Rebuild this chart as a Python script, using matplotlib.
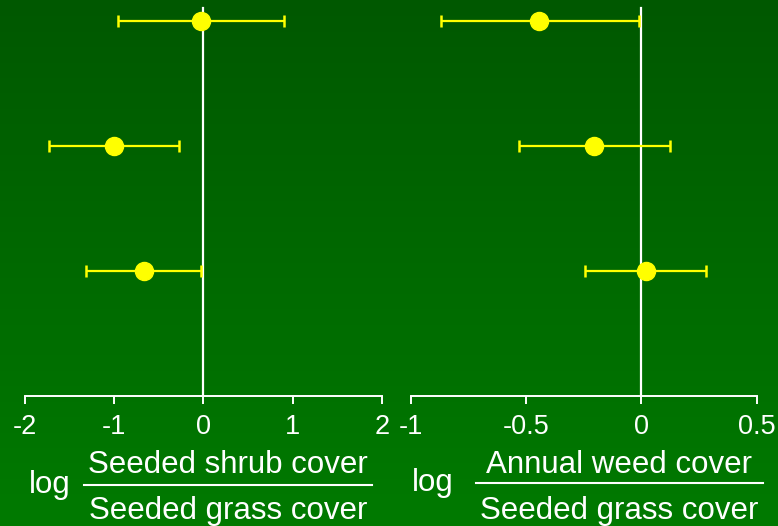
import numpy as np
import matplotlib
matplotlib.use("Agg")
import matplotlib.pyplot as plt
from matplotlib.lines import Line2D

plt.rcParams["font.family"] = ["Liberation Sans", "DejaVu Sans"]

# Row positions (top to bottom)
rows = [3, 2, 1]

# log(seeded shrub / seeded grass)
shrub_mean = [-0.03, -1.00, -0.67]
shrub_lo = [-0.96, -1.73, -1.32]
shrub_hi = [0.90, -0.27, -0.03]

# log(annual weed / seeded grass)
weed_mean = [-0.445, -0.207, 0.020]
weed_lo = [-0.868, -0.529, -0.246]
weed_hi = [-0.010, 0.126, 0.280]

shrub_ticks = [-2, -1, 0, 1, 2]
shrub_ticklabels = ["-2", "-1", "0", "1", "2"]
weed_ticks = [-1, -0.5, 0, 0.5]
weed_ticklabels = ["-1", "-0.5", "0", "0.5"]

W, H = 778, 526
fig = plt.figure(figsize=(W / 100, H / 100), dpi=100)

# vertical green gradient background
bg = fig.add_axes([0, 0, 1, 1], zorder=-10)
grad = np.linspace(0, 1, 256)[:, None]
top = np.array([0.0, 0x58 / 255, 0.0])
bot = np.array([0.0, 0x7a / 255, 0.0])
img = top[None, None, :] * (1 - grad[:, :, None]) + bot[None, None, :] * grad[:, :, None]
bg.imshow(img, aspect="auto", extent=[0, 1, 0, 1])
bg.set_axis_off()

yellow = "#ffff00"
axis_bottom_px = 395.7
ax_h = axis_bottom_px / H
ax_b = 1 - ax_h
TICK_FS = 19.5
LABEL_FS = 22.5


def panel(rect, mean, lo, hi, xlim, ticks, labels):
    ax = fig.add_axes(rect)
    ax.set_facecolor("none")
    ax.set_xlim(*xlim)
    ax.set_ylim(0, axis_bottom_px / 125.0)
    ax.axvline(0, ymin=0, ymax=3.1 / (axis_bottom_px / 125.0), color="white", lw=1.6, zorder=1)
    m = np.array(mean)
    xerr = [m - np.array(lo), np.array(hi) - m]
    ax.errorbar(m, rows, xerr=xerr, fmt="o", color=yellow, ecolor=yellow,
                elinewidth=1.6, capsize=4.4, capthick=1.8, markersize=13,
                zorder=3)
    for s in ["top", "left", "right"]:
        ax.spines[s].set_visible(False)
    ax.spines["bottom"].set_color("white")
    ax.spines["bottom"].set_linewidth(1.4)
    ax.set_yticks([])
    ax.set_xticks(ticks)
    ax.set_xticklabels(labels)
    ax.tick_params(axis="x", colors="white", length=5.5, width=1.4,
                   labelsize=TICK_FS, pad=7.5)
    return ax


panel([25 / W, ax_b, 356.7 / W, ax_h], shrub_mean, shrub_lo, shrub_hi,
      (-2, 2), shrub_ticks, shrub_ticklabels)
panel([410.7 / W, ax_b, 346 / W, ax_h], weed_mean, weed_lo, weed_hi,
      (-1, 0.5), weed_ticks, weed_ticklabels)


def fy(px):
    return 1 - px / H


def ratio_label(log_x, log_base, num, den, x0, x1, line_y, num_base, den_base):
    fig.text(log_x / W, fy(log_base), "log", color="white", fontsize=LABEL_FS,
             ha="center", va="baseline")
    cx = (x0 + x1) / 2
    fig.text(cx / W, fy(num_base), num, color="white", fontsize=LABEL_FS,
             ha="center", va="baseline")
    fig.text(cx / W, fy(den_base), den, color="white", fontsize=LABEL_FS,
             ha="center", va="baseline")
    fig.add_artist(Line2D([x0 / W, x1 / W], [fy(line_y), fy(line_y)],
                          color="white", lw=1.5, transform=fig.transFigure))


ratio_label(50, 493.3, "Seeded shrub cover", "Seeded grass cover",
            84, 372, 484.5, 473.3, 518.5)
ratio_label(433, 491.5, "Annual weed cover", "Seeded grass cover",
            476, 763, 483.3, 472.7, 518.5)

fig.savefig("out.png", dpi=100)
